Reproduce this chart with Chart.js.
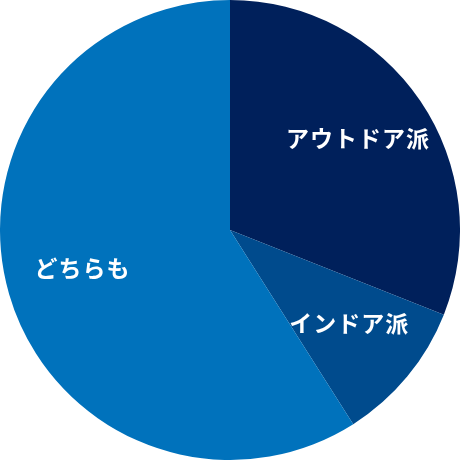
<!DOCTYPE html>
<html>
<head>
<meta charset="utf-8">
<script src="https://cdn.jsdelivr.net/npm/chart.js@4"></script>
<style>
  html, body { margin: 0; padding: 0; background: #fff; }
  #wrap { width: 460px; height: 460px; }
</style>
</head>
<body>
<div id="wrap"><canvas id="pieChart" width="460" height="460"></canvas></div>
<script>
const labels = ["アウトドア派", "インドア派", "どちらも"];
const shares = [31, 10, 59];
const colors = ["#00205b", "#004b8d", "#0072bc"];

// draw each label in white inside its slice
const sliceLabels = {
  id: "sliceLabels",
  afterDatasetsDraw(chart) {
    const ctx = chart.ctx;
    const meta = chart.getDatasetMeta(0);
    ctx.save();
    ctx.fillStyle = "#fff";
    ctx.font = "bold 23px 'Noto Sans CJK JP', sans-serif";
    ctx.letterSpacing = "1px";
    ctx.textAlign = "center";
    ctx.textBaseline = "middle";
    meta.data.forEach((arc, i) => {
      const mid = (arc.startAngle + arc.endAngle) / 2;
      const r = arc.outerRadius * 0.67;
      ctx.fillText(labels[i], arc.x + Math.cos(mid) * r + 0.5, arc.y + Math.sin(mid) * r - 5);
    });
    ctx.restore();
  }
};

new Chart(document.getElementById("pieChart").getContext("2d"), {
  type: "pie",
  data: {
    labels: labels,
    datasets: [{
      data: shares,
      backgroundColor: colors,
      borderWidth: 0
    }]
  },
  options: {
    responsive: false,
    animation: false,
    layout: { padding: 0 },
    plugins: {
      legend: { display: false },
      tooltip: { enabled: false }
    }
  },
  plugins: [sliceLabels]
});
</script>
</body>
</html>
